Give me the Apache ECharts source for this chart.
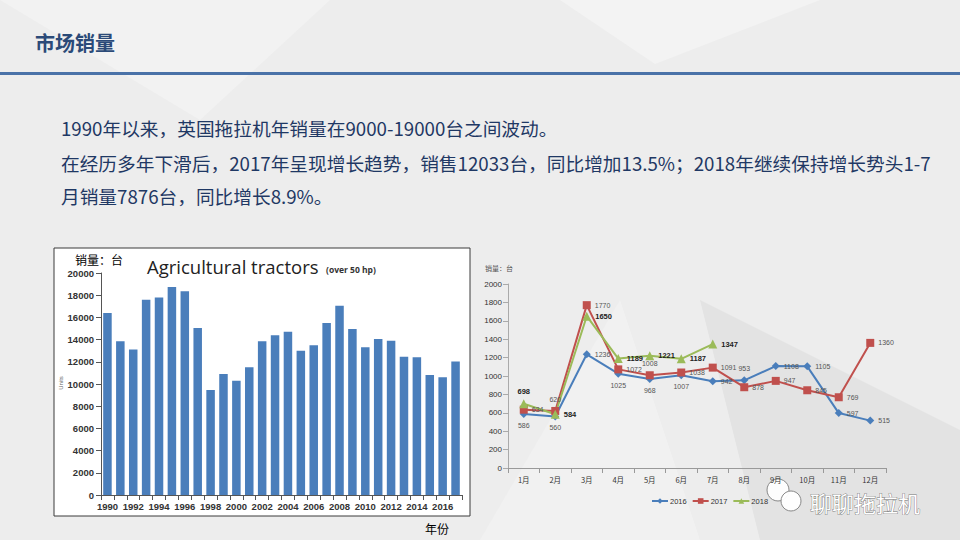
<!DOCTYPE html>
<html><head><meta charset="utf-8">
<script src="https://cdn.jsdelivr.net/npm/echarts@6/dist/echarts.min.js"></script>
<style>html,body{margin:0;padding:0;background:#ededed}#c{width:960px;height:540px}</style>
</head><body><div id="c"></div>
<script>
// ---- data ----
const years = ['1990','1991','1992','1993','1994','1995','1996','1997','1998','1999','2000','2001','2002','2003','2004','2005','2006','2007','2008','2009','2010','2011','2012','2013','2014','2015','2016','2017'];
const annualSales = [16400,13850,13100,17600,17800,18750,18350,15050,9450,10900,10300,11500,13850,14400,14700,13000,13500,15500,17050,14950,13300,14050,13900,12450,12400,10800,10600,12033];
const months = ['1月','2月','3月','4月','5月','6月','7月','8月','9月','10月','11月','12月'];
const sales2016 = [586,560,1236,1025,968,1007,942,953,1108,1105,597,515];
const sales2017 = [634,620,1770,1072,1008,1038,1091,878,947,845,769,1360];
const sales2018 = [698,584,1650,1189,1221,1187,1347];
const seriesNames = ['2016','2017','2018'];

// ---- label placement (style only) ----
const pos2016 = ['bottom','bottom','right','bottom','bottom','bottom','right','top','right','right','right','right'];
const pos2017 = ['right','top','right','right','top','right','right','right','right','right','right','right'];
const pos2018 = ['top','right','right','right','right','right','right'];

const chart = echarts.init(document.getElementById('c'), null, {renderer: 'svg'});

function withPos(vals, pos) {
  return vals.map((v, i) => ({value: v, label: {position: pos[i]}}));
}

const bodyFont = '"Noto Sans CJK SC", sans-serif';
const numFont = '"Liberation Sans", sans-serif';
const option = {
  backgroundColor: '#ededed',
  animation: false,
  title: {
    text: '市场销量', left: 30, top: 27,
    textStyle: {fontSize: 20, fontWeight: 'bold', color: '#2b4a78', fontFamily: bodyFont}
  },
  graphic: [
    // background facets
    {type: 'polygon', z: -10, silent: true, shape: {points: [[160,0],[330,0],[200,120],[0,0]]}, style: {fill: '#f2f2f2'}},
    {type: 'polygon', z: -10, silent: true, shape: {points: [[560,0],[820,0],[655,64]]}, style: {fill: '#f3f3f3'}},
    {type: 'polygon', z: -10, silent: true, shape: {points: [[700,300],[960,430],[960,540],[760,540]]}, style: {fill: '#e3e3e3'}},
    {type: 'polygon', z: -10, silent: true, shape: {points: [[480,540],[620,300],[700,540]]}, style: {fill: '#f1f1f1'}},
    // header rule
    {type: 'rect', shape: {x: 0, y: 72, width: 960, height: 3}, style: {fill: '#4a72a8'}},
    // body text
    {type: 'text', style: {text: '1990年以来，英国拖拉机年销量在9000-19000台之间波动。', x: 61, y: 127, verticalAlign: 'middle', font: '18.7px ' + bodyFont, fill: '#1f3864'}},
    {type: 'text', style: {text: '在经历多年下滑后，2017年呈现增长趋势，销售12033台，同比增加13.5%；2018年继续保持增长势头1-7', x: 61, y: 162, verticalAlign: 'middle', font: '18.7px ' + bodyFont, fill: '#1f3864'}},
    {type: 'text', style: {text: '月销量7876台，同比增长8.9%。', x: 61, y: 195, verticalAlign: 'middle', font: '18.7px ' + bodyFont, fill: '#1f3864'}},
    // bar chart frame
    {type: 'rect', z: -5, shape: {x: 54, y: 248, width: 416, height: 268}, style: {fill: '#ffffff', stroke: '#3a3a3a', lineWidth: 1}},
    {type: 'text', style: {text: '销量：台', x: 75, y: 259, verticalAlign: 'middle', font: '12px ' + bodyFont, fill: '#000'}},
    {type: 'text', style: {text: 'Agricultural tractors', x: 147, y: 266, verticalAlign: 'middle', font: '18.5px "Open Sans", sans-serif', fill: '#222'}},
    {type: 'text', style: {text: '(over 50 hp)', x: 326, y: 269, verticalAlign: 'middle', font: 'bold 8.5px "Open Sans", sans-serif', fill: '#333'}},
    {type: 'text', rotation: Math.PI / 2, x: 61, y: 383, style: {text: 'Units', align: 'center', verticalAlign: 'middle', font: '6px ' + numFont, fill: '#666'}},
    {type: 'text', style: {text: '年份', x: 425, y: 528, verticalAlign: 'middle', font: '12px ' + bodyFont, fill: '#000'}},
    // line chart unit
    {type: 'text', style: {text: '销量：台', x: 485, y: 268, verticalAlign: 'middle', font: '7px ' + bodyFont, fill: '#555'}},
    // watermark
    {type: 'circle', shape: {cx: 778, cy: 490, r: 11}, style: {fill: 'rgba(255,255,255,0.9)', stroke: '#888', lineWidth: 1}},
    {type: 'circle', shape: {cx: 791, cy: 501, r: 10}, style: {fill: 'rgba(255,255,255,0.95)', stroke: '#888', lineWidth: 1}},
    {type: 'text', style: {text: '聊聊拖拉机', x: 810, y: 502, verticalAlign: 'middle', font: '22px ' + bodyFont, fill: '#ffffff', stroke: '#777', lineWidth: 0.8}}
  ],
  legend: {
    data: seriesNames.map(n => ({name: n})),
    left: 646, top: 492, itemWidth: 16, itemHeight: 7, itemGap: 5,
    textStyle: {fontSize: 7.5, color: '#333', fontFamily: numFont, padding: [0, 0, 0, -3]}
  },
  grid: [
    {left: 101, top: 273, width: 361, height: 222},
    {left: 508, top: 284, width: 378, height: 184}
  ],
  xAxis: [
    {
      gridIndex: 0, type: 'category', data: years, boundaryGap: true,
      axisLine: {lineStyle: {color: '#555'}},
      axisTick: {show: true, interval: 0, lineStyle: {color: '#555'}},
      axisLabel: {interval: 1, fontSize: 9.5, fontWeight: 'bold', color: '#333', margin: 6, fontFamily: numFont}
    },
    {
      gridIndex: 1, type: 'category', data: months, boundaryGap: true,
      axisLine: {lineStyle: {color: '#999'}},
      axisTick: {show: true, lineStyle: {color: '#999'}},
      axisLabel: {interval: 0, fontSize: 7.5, color: '#333', margin: 8, fontFamily: bodyFont}
    }
  ],
  yAxis: [
    {
      gridIndex: 0, type: 'value', min: 0, max: 20000, interval: 2000,
      splitLine: {show: false},
      axisLine: {show: true, lineStyle: {color: '#555'}},
      axisTick: {show: true, lineStyle: {color: '#555'}},
      axisLabel: {fontSize: 9.5, fontWeight: 'bold', color: '#333', margin: 7, fontFamily: numFont, formatter: v => String(v)}
    },
    {
      gridIndex: 1, type: 'value', min: 0, max: 2000, interval: 200,
      splitLine: {show: false},
      axisLine: {show: true, lineStyle: {color: '#aaa'}},
      axisTick: {show: true, lineStyle: {color: '#aaa'}},
      axisLabel: {fontSize: 8, color: '#333', margin: 6, fontFamily: numFont, formatter: v => String(v)}
    }
  ],
  series: [
    {
      type: 'bar', xAxisIndex: 0, yAxisIndex: 0, data: annualSales,
      barWidth: '66%', itemStyle: {color: '#4a7ebb'}
    },
    {
      name: seriesNames[0], type: 'line', xAxisIndex: 1, yAxisIndex: 1,
      data: withPos(sales2016, pos2016),
      symbol: 'diamond', symbolSize: 8, lineStyle: {width: 2, color: '#4a7ebb'}, itemStyle: {color: '#4a7ebb'},
      label: {show: true, fontSize: 7, color: '#555', distance: 4}
    },
    {
      name: seriesNames[1], type: 'line', xAxisIndex: 1, yAxisIndex: 1,
      data: withPos(sales2017, pos2017),
      symbol: 'rect', symbolSize: 8, lineStyle: {width: 2, color: '#c0504d'}, itemStyle: {color: '#c0504d'},
      label: {show: true, fontSize: 7, color: '#555', distance: 4}
    },
    {
      name: seriesNames[2], type: 'line', xAxisIndex: 1, yAxisIndex: 1,
      data: withPos(sales2018, pos2018),
      symbol: 'triangle', symbolSize: 9, lineStyle: {width: 2, color: '#9bbb59'}, itemStyle: {color: '#9bbb59'},
      label: {show: true, fontSize: 7.5, fontWeight: 'bold', color: '#222', distance: 4}
    }
  ]
};
chart.setOption(option);
</script>
</body></html>
